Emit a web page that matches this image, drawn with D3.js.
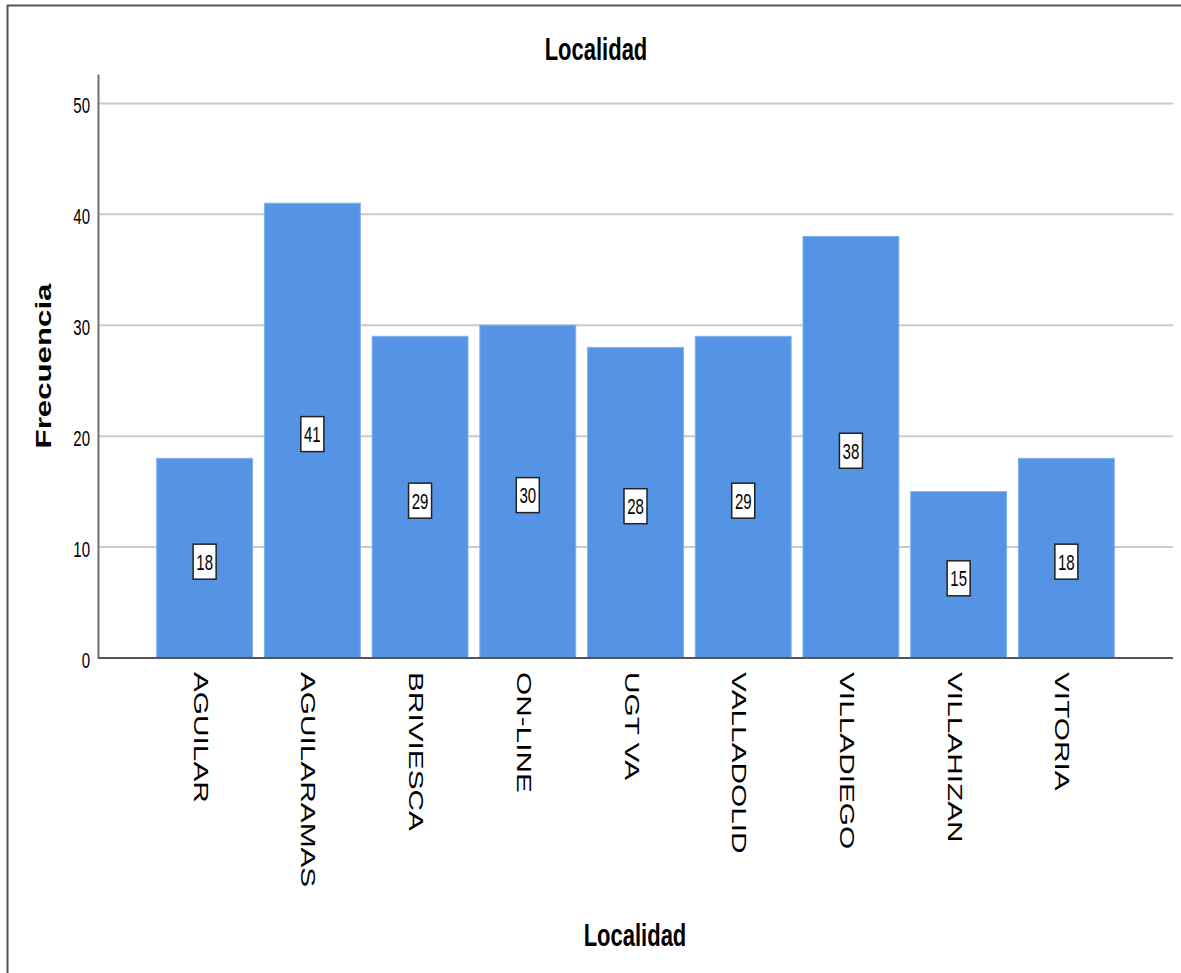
<!DOCTYPE html>
<html>
<head>
<meta charset="utf-8">
<script src="https://cdn.jsdelivr.net/npm/d3@7"></script>
<style>
  body { margin: 0; background: #fff; }
  text { font-family: "Liberation Sans", Arial, sans-serif; fill: #000; }
</style>
</head>
<body>
<script>
const localidades = ["AGUILAR", "AGUILARAMAS", "BRIVIESCA", "ON-LINE", "UGT VA", "VALLADOLID", "VILLADIEGO", "VILLAHIZAN", "VITORIA"]
const frecuencias = [18, 41, 29, 30, 28, 29, 38, 15, 18]
const yTicks = [0, 10, 20, 30, 40, 50]

const w = 1181
const h = 973
const stretch = 1.42  // picture is stretched vertically

const svg = d3.select("body")
  .append("svg")
  .attr("width", w)
  .attr("height", h)

// frame (top and left only)
svg.append("line").attr("x1", 7).attr("x2", w).attr("y1", 5.5).attr("y2", 5.5)
  .attr("stroke", "#555").attr("stroke-width", 2)
svg.append("line").attr("x1", 7.5).attr("x2", 7.5).attr("y1", 5).attr("y2", h)
  .attr("stroke", "#555").attr("stroke-width", 2)

const xScale = d3.scaleBand()
  .domain(localidades)
  .range([98, 1173])
  .paddingInner(0.11)
  .paddingOuter(0.545)

const yScale = d3.scaleLinear()
  .domain([0, 52.65])
  .range([658, 74])

// grid lines
svg.append("g")
  .selectAll("line")
  .data(yTicks.filter(t => t > 0))
  .enter()
  .append("line")
  .attr("x1", 98)
  .attr("x2", 1173)
  .attr("y1", d => yScale(d))
  .attr("y2", d => yScale(d))
  .attr("stroke", "#cacaca")
  .attr("stroke-width", 2)

// bars
svg.append("g")
  .selectAll("rect")
  .data(localidades)
  .enter()
  .append("rect")
  .attr("x", d => xScale(d))
  .attr("width", xScale.bandwidth())
  .attr("y", (d, i) => yScale(frecuencias[i]))
  .attr("height", (d, i) => yScale(0) - yScale(frecuencias[i]))
  .attr("fill", "#5594e4")
  .attr("stroke", "#7eb0ef")
  .attr("stroke-width", 1)

// axes
const yAxis = d3.axisLeft(yScale)
  .tickValues(yTicks)
  .tickSize(0)
  .tickPadding(8)
  .tickFormat(d3.format("d"))

const gy = svg.append("g")
  .attr("transform", "translate(98,0)")
  .call(yAxis)
gy.select(".domain").attr("stroke", "#707070").attr("stroke-width", 2)
gy.selectAll(".tick text")
  .attr("font-size", 15)
  .attr("font-family", "Liberation Sans, Arial, sans-serif")
  .attr("fill", "#111")
  .attr("dy", null)
  .attr("x", null)
  .attr("transform", `translate(-8,9) scale(1,${stretch})`)

svg.append("line")
  .attr("x1", 98).attr("x2", 1173)
  .attr("y1", yScale(0)).attr("y2", yScale(0))
  .attr("stroke", "#555").attr("stroke-width", 2)

// x tick labels (rotated)
svg.append("g")
  .selectAll("text")
  .data(localidades)
  .enter()
  .append("text")
  .attr("transform", d => `translate(${xScale(d) + xScale.bandwidth() / 2 - 11},672) rotate(90) scale(${stretch},1)`)
  .attr("font-size", 21)
  .attr("fill", "#111")
  .text(d => d)

// value labels
const labels = svg.append("g")
  .selectAll("g")
  .data(localidades)
  .enter()
  .append("g")
  .attr("transform", (d, i) => `translate(${xScale(d) + xScale.bandwidth() / 2},${yScale(frecuencias[i] / 2) + 3.5})`)

labels.append("rect")
  .attr("x", -11.5)
  .attr("y", -17.5)
  .attr("width", 23)
  .attr("height", 35)
  .attr("fill", "#fff")
  .attr("stroke", "#222")
  .attr("stroke-width", 1.5)

labels.append("text")
  .attr("text-anchor", "middle")
  .attr("font-size", 15)
  .attr("transform", `translate(0,8) scale(1,${stretch})`)
  .text((d, i) => frecuencias[i])

// titles
svg.append("text")
  .attr("transform", `translate(596,60) scale(1,${stretch})`)
  .attr("text-anchor", "middle")
  .attr("font-size", 22)
  .attr("font-weight", "bold")
  .text("Localidad")

svg.append("text")
  .attr("transform", `translate(635,946) scale(1,${stretch})`)
  .attr("text-anchor", "middle")
  .attr("font-size", 22)
  .attr("font-weight", "bold")
  .text("Localidad")

svg.append("text")
  .attr("transform", `translate(51,366) rotate(-90) scale(${stretch},1)`)
  .attr("text-anchor", "middle")
  .attr("font-size", 22)
  .attr("font-weight", "bold")
  .text("Frecuencia")
</script>
</body>
</html>
